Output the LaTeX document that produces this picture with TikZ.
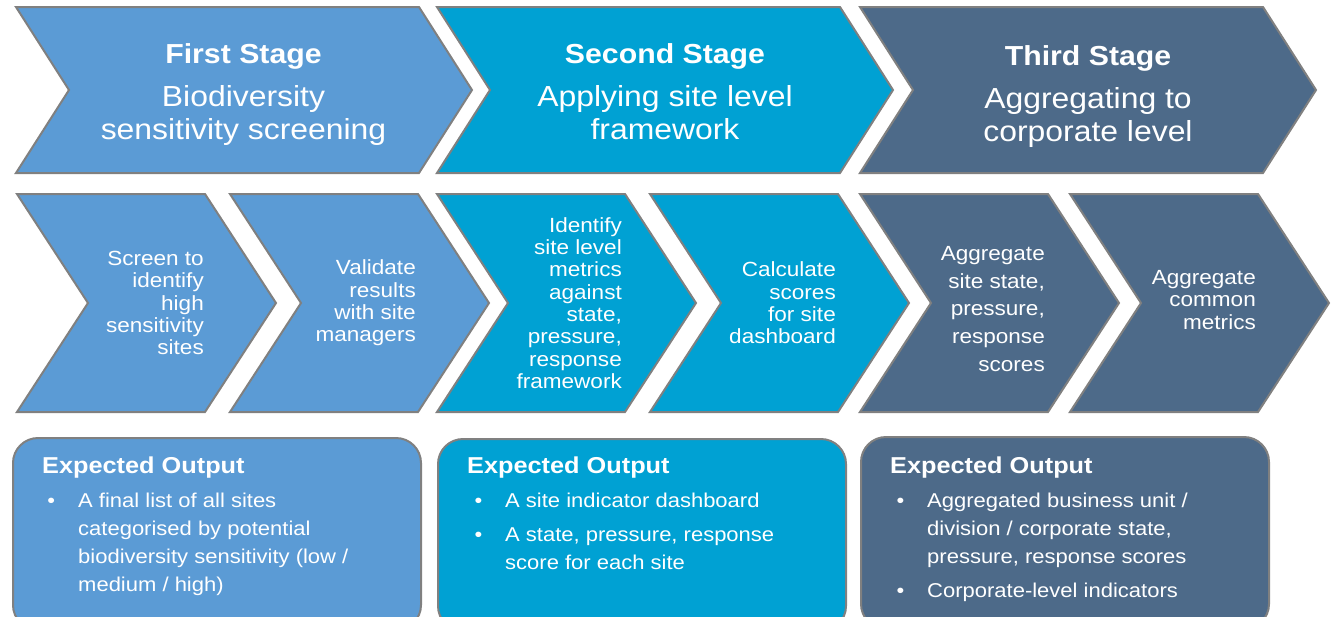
\documentclass[tikz,border=0pt]{standalone}
\usepackage{fontspec}
\setmainfont{Liberation Sans}[FakeStretch=1.1]
\usetikzlibrary{positioning}

\definecolor{stageA}{HTML}{5B9BD5}
\definecolor{stageB}{HTML}{00A1D3}
\definecolor{stageC}{HTML}{4D6A89}
\definecolor{edgegray}{HTML}{808080}
\newcommand{\itembul}{\llap{\textbullet\hspace{23pt}}}

\begin{document}
\begin{tikzpicture}[
    x=1pt, y=-1pt,
    chev/.style={draw=edgegray, line width=2pt, line join=miter},
    txt/.style={text=white, inner sep=0pt},
    head/.style={txt, anchor=base, font=\bfseries\fontsize{27.5}{33}\selectfont},
    sub/.style={txt, anchor=north, align=center, font=\fontsize{29}{33}\selectfont},
    task/.style={txt, anchor=east, align=right, font=\fontsize{20.5}{22.3}\selectfont},
    outbox/.style={draw=edgegray, line width=2pt, rounded corners=25pt, anchor=north west, minimum width=408pt, minimum height=192pt, inner sep=0pt},
    outhead/.style={txt, anchor=base west, font=\bfseries\fontsize{23}{28}\selectfont},
    outlist/.style={txt, anchor=north west, align=left, font=\fontsize{20}{28}\selectfont}
  ]
    \path[use as bounding box, clip] (0,0) rectangle (1340,616);

    % stage chevrons
    \foreach \x/\c in {16/stageA, 437/stageB, 860/stageC}
      \draw[chev, fill=\c] (\x,7) -- ++(403,0) -- ++(53,83) -- ++(-53,83) -- ++(-403,0) -- ++(53,-83) -- cycle;
    % task chevrons
    \foreach \x/\c in {17/stageA, 230/stageA, 437/stageB, 650/stageB, 860/stageC, 1070/stageC}
      \draw[chev, fill=\c] (\x,194) -- ++(188,0) -- ++(71,109) -- ++(-71,109) -- ++(-188,0) -- ++(71,-109) -- cycle;

    \node[head] (first) at (243.5,63) {First Stage};
    \node[sub] (firstsub) at (243.5,85) {Biodiversity\\sensitivity screening};
    \node[head] (second) at (665,63) {Second Stage};
    \node[sub] (secondsub) at (665,85) {Applying site level\\framework};
    \node[head] (third) at (1088,65) {Third Stage};
    \node[sub] (thirdsub) at (1088,87) {Aggregating to\\corporate level};

    \node[task] (screen) at (204,303) {Screen to\\identify\\high\\sensitivity\\sites};
    \node[task] (validate) at (416,303) {Validate\\results\\with site\\managers};
    \node[task] (identify) at (622,303) {Identify\\site level\\metrics\\against\\state,\\pressure,\\response\\framework};
    \node[task] (calc) at (836,303) {Calculate\\scores\\for site\\dashboard};
    \node[task, font=\fontsize{20.5}{27.7}\selectfont] (aggsite) at (1045,309) {Aggregate\\site state,\\pressure,\\response\\scores};
    \node[task] (aggcommon) at (1256,300) {Aggregate\\common\\metrics};

    % expected outputs
    \node[outbox, fill=stageA] (out1) at (12,437) {};
    \node[outbox, fill=stageB] (out2) at (437,438) {};
    \node[outbox, fill=stageC] (out3) at (860,436) {};

    \node[outhead] (out1head) at (42,473) {Expected Output};
    \node[outlist] (out1list) at (78,493) {\itembul A final list of all sites\\categorised by potential\\biodiversity sensitivity (low /\\medium / high)};
    \node[outhead] (out2head) at (467,473) {Expected Output};
    \node[outlist] (out2list) at (505,493) {\itembul A site indicator dashboard\\[6pt]\itembul A state, pressure, response\\score for each site};
    \node[outhead] (out3head) at (890,473) {Expected Output};
    \node[outlist] (out3list) at (927,493) {\itembul Aggregated business unit /\\division / corporate state,\\pressure, response scores\\[6pt]\itembul Corporate-level indicators};
\end{tikzpicture}
\end{document}
